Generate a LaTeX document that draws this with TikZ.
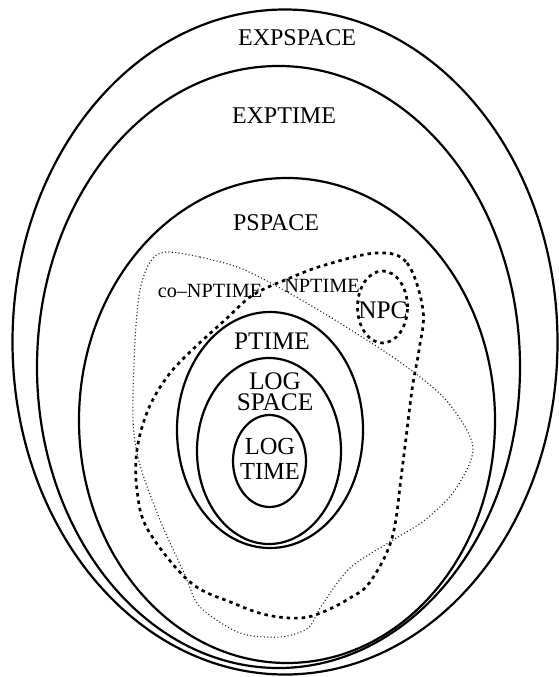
\documentclass[tikz,border=0pt]{standalone}
\usepackage{fontspec}
\setmainfont{Liberation Serif}
\begin{document}
\begin{tikzpicture}[x=1pt,y=-1pt,
  classline/.style={line width=2.2pt},
  npline/.style={line width=2.7pt, dash pattern=on 3.5pt off 4pt},
  conpline/.style={line width=1.1pt, dash pattern=on 1.1pt off 2.3pt, black!85},
  biglabel/.style={inner sep=0pt, font=\fontsize{24}{24}\selectfont},
  midlabel/.style={inner sep=0pt, font=\fontsize{25.3}{25}\selectfont},
  smalllabel/.style={inner sep=0pt, font=\fontsize{20.2}{20}\selectfont}]
\useasboundingbox (0,0) rectangle (559,677);
% complexity classes
\draw[classline] (285,342) ellipse [x radius=272.5pt, y radius=332.5pt];
\draw[classline] (278.5,367) ellipse [x radius=241.5pt, y radius=301pt];
\draw[classline] (287,420.5) ellipse [x radius=208pt, y radius=242.5pt];
\draw[classline] (270,430) ellipse [x radius=93pt, y radius=118pt];
\draw[classline] (269,451) ellipse [x radius=72pt, y radius=93pt];
\draw[classline] (269.5,461) ellipse [x radius=36.5pt, y radius=46pt];
\draw[npline] (382.5,307) ellipse [x radius=25pt, y radius=36pt];
% NPTIME
\draw[npline] plot[smooth cycle, tension=0.6] coordinates {
  (377,253) (407,263) (423,310) (419,350) (412,390) (402,470) (392,538)
  (370,582) (350,598) (323,612) (300,618) (267,615) (233,603) (190,582)
  (148,530) (137,490) (137,450) (148,410) (167,377) (190,352) (225,320)
  (253,295) (290,278) (325,265)};
% co-NPTIME
\draw[conpline] plot[smooth cycle, tension=0.5] coordinates {
  (165,252) (200,257) (240,268) (280,288) (330,317) (397,360) (446,400)
  (473,447) (455,490) (425,520) (393,540) (350,568) (322,605) (308,628)
  (280,637) (240,633) (200,607) (185,575) (160,520) (140,465) (133,420)
  (135,340) (140,290) (150,262)};
% labels
\node[biglabel, anchor=base] (expspace) at (297,46) {EXPSPACE};
\node[biglabel, anchor=base] (exptime) at (284,123) {EXPTIME};
\node[biglabel, anchor=base] (pspace) at (276,230) {PSPACE};
\node[smalllabel, anchor=base] (conptime) at (210,297) {co--NPTIME};
\node[smalllabel, anchor=base] (nptime) at (322,292) {NPTIME};
\node[midlabel, anchor=base] (npc) at (383,318) {NPC};
\node[midlabel, anchor=base] (ptime) at (272,349) {PTIME};
\node[midlabel, anchor=north, align=center, font=\fontsize{25.3}{20.5}\selectfont] (logspace) at (275,373) {LOG\\SPACE};
\node[midlabel, anchor=north, align=center, font=\fontsize{24.5}{25}\selectfont] (logtime) at (270,438) {LOG\\TIME};
\end{tikzpicture}
\end{document}
